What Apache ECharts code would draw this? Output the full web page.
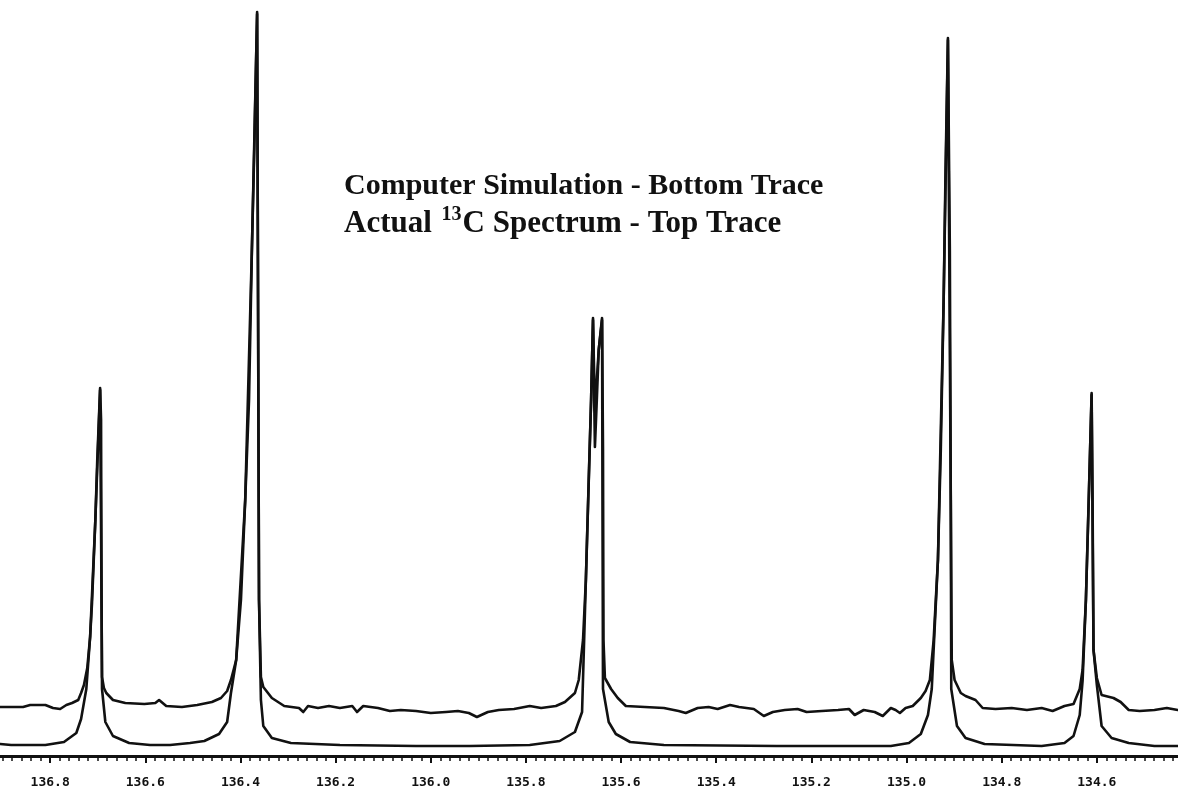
<!DOCTYPE html>
<html>
<head>
<meta charset="utf-8">
<script src="https://cdn.jsdelivr.net/npm/echarts@6/dist/echarts.min.js"></script>
<style>
  html, body { margin: 0; padding: 0; background: #fff; }
  #chart { width: 1178px; height: 796px; }
</style>
</head>
<body>
<div id="chart"></div>
<script>
// Chemical shift axis (ppm, decreasing to the right)
const shiftMin = 134.4;
const shiftMax = 137.0;
const shiftStep = 0.2;

// Title lines (rich-text markup: t = regular, s = superscript)
const titleLines = [
  '{t|Computer Simulation - Bottom Trace}',
  '{u|Actual }{s|13}{u|C Spectrum - Top Trace}'
];

// Measured 13C spectrum (top trace): [ppm, intensity]
const actualSpectrum = [
  [136.905,4.9],[136.882,4.9],[136.857,4.9],[136.842,5.1],[136.810,5.1],[136.794,4.8],[136.779,4.7],
  [136.766,5.1],[136.754,5.3],[136.741,5.6],[136.735,6.3],[136.729,7.1],[136.722,8.8],[136.716,11.9],
  [136.712,15.3],[136.705,23.6],[136.701,29.6],[136.695,36.8],[136.693,33.6],[136.692,15.6],[136.691,7.9],
  [136.687,6.8],[136.682,6.3],[136.668,5.6],[136.642,5.3],[136.602,5.2],[136.579,5.3],[136.571,5.6],
  [136.556,5.0],[136.523,4.9],[136.491,5.1],[136.460,5.4],[136.441,5.8],[136.428,6.5],[136.420,7.6],
  [136.409,9.6],[136.399,15.6],[136.390,25.6],[136.382,35.6],[136.376,50.6],[136.371,60.6],[136.365,74.4],
  [136.363,45.6],[136.361,15.6],[136.357,7.9],[136.352,6.9],[136.334,5.8],[136.308,5.0],[136.277,4.8],
  [136.268,4.4],[136.258,5.0],[136.237,4.8],[136.214,5.0],[136.191,4.8],[136.165,5.0],[136.155,4.4],
  [136.142,5.0],[136.111,4.8],[136.086,4.5],[136.063,4.6],[136.031,4.5],[136.000,4.3],[135.968,4.4],
  [135.943,4.5],[135.920,4.3],[135.903,3.9],[135.880,4.4],[135.857,4.6],[135.825,4.7],[135.792,5.0],
  [135.768,4.8],[135.737,5.0],[135.718,5.4],[135.697,6.3],[135.689,7.6],[135.680,11.6],[135.674,17.6],
  [135.668,27.6],[135.663,35.6],[135.659,43.8],[135.655,30.9],[135.651,35.6],[135.647,40.6],[135.640,43.8],
  [135.638,30.6],[135.637,11.6],[135.634,7.8],[135.621,6.7],[135.607,5.8],[135.590,5.0],[135.550,4.9],
  [135.510,4.8],[135.479,4.5],[135.464,4.3],[135.439,4.8],[135.416,4.9],[135.397,4.7],[135.371,5.1],
  [135.352,4.9],[135.321,4.7],[135.300,4.0],[135.281,4.4],[135.256,4.6],[135.229,4.7],[135.210,4.4],
  [135.178,4.5],[135.144,4.6],[135.121,4.7],[135.109,4.1],[135.090,4.6],[135.067,4.4],[135.050,4.0],
  [135.033,4.8],[135.023,4.6],[135.014,4.3],[135.002,4.8],[134.987,5.0],[134.970,5.8],[134.960,6.5],
  [134.951,7.6],[134.943,11.6],[134.934,19.6],[134.928,30.6],[134.922,45.6],[134.918,58.6],[134.913,71.8],
  [134.909,50.6],[134.907,25.6],[134.905,9.6],[134.899,7.6],[134.886,6.3],[134.876,6.0],[134.855,5.6],
  [134.840,4.8],[134.813,4.7],[134.779,4.8],[134.747,4.6],[134.716,4.8],[134.693,4.5],[134.668,5.0],
  [134.649,5.2],[134.636,6.7],[134.630,8.6],[134.623,15.6],[134.617,25.6],[134.611,36.3],[134.609,25.6],
  [134.607,10.6],[134.600,7.8],[134.590,6.1],[134.565,5.8],[134.550,5.4],[134.533,4.6],[134.510,4.5],
  [134.479,4.6],[134.453,4.8],[134.430,4.6]
];

// Computer simulation (bottom trace): [ppm, intensity]
const simulatedSpectrum = [
  [136.905,1.2],[136.882,1.1],[136.810,1.1],[136.771,1.4],[136.745,2.3],[136.735,3.7],[136.724,6.7],
  [136.716,11.9],[136.705,23.6],[136.695,36.6],[136.692,15.6],[136.691,6.7],[136.684,3.4],[136.668,2.0],
  [136.634,1.3],[136.590,1.1],[136.548,1.1],[136.506,1.3],[136.476,1.5],[136.445,2.2],[136.428,3.4],
  [136.420,6.3],[136.409,9.6],[136.390,25.6],[136.376,50.6],[136.365,74.2],[136.361,15.6],[136.357,5.6],
  [136.352,3.0],[136.334,1.8],[136.294,1.3],[136.191,1.1],[136.031,1.0],[135.918,1.0],[135.792,1.1],
  [135.729,1.5],[135.697,2.4],[135.682,4.4],[135.674,17.6],[135.663,35.6],[135.659,43.6],[135.655,34.6],
  [135.647,40.6],[135.640,43.6],[135.638,6.7],[135.626,3.4],[135.611,2.2],[135.581,1.4],[135.510,1.1],
  [135.273,1.0],[135.033,1.0],[134.995,1.3],[134.970,2.2],[134.955,4.1],[134.947,6.7],[134.934,19.6],
  [134.922,45.6],[134.913,71.6],[134.907,25.6],[134.906,6.7],[134.894,3.0],[134.876,1.8],[134.836,1.2],
  [134.716,1.0],[134.668,1.3],[134.649,2.0],[134.636,4.1],[134.630,7.5],[134.623,15.6],[134.611,36.1],
  [134.607,10.6],[134.600,7.1],[134.590,3.0],[134.569,1.8],[134.533,1.3],[134.479,1.0],[134.430,1.0]
];

const chart = echarts.init(document.getElementById('chart'), null, { renderer: 'canvas' });

const ink = '#111';
const serif = '"Liberation Serif", "DejaVu Serif", serif';

chart.setOption({
  backgroundColor: '#ffffff',
  animation: false,
  title: {
    text: titleLines.join('\n'),
    left: 339,
    top: 163,
    textStyle: {
      rich: {
        t: { fontFamily: serif, fontWeight: 'bold', fontSize: 30, lineHeight: 37, color: ink },
        u: { fontFamily: serif, fontWeight: 'bold', fontSize: 31, lineHeight: 37, color: ink },
        s: { fontFamily: serif, fontWeight: 'bold', fontSize: 20, lineHeight: 24, color: ink,
             verticalAlign: 'top', padding: [0, 1, 0, 2] }
      }
    }
  },
  // The shift axis runs a little past both edges of the canvas
  grid: { left: -45, right: -14, top: 6, bottom: 40, outerBoundsMode: 'none', containLabel: false },
  xAxis: {
    type: 'value',
    inverse: true,
    min: shiftMin,
    max: shiftMax,
    interval: shiftStep,
    axisLine: { show: true, onZero: false, lineStyle: { color: ink, width: 3 } },
    axisTick: { show: true, length: 7, lineStyle: { color: ink, width: 2 } },
    minorTick: { show: true, splitNumber: 10, length: 5, lineStyle: { color: ink, width: 1.5 } },
    splitLine: { show: false },
    axisLabel: {
      margin: 20,
      color: ink,
      showMinLabel: false,
      showMaxLabel: false,
      fontFamily: '"DejaVu Sans Mono", monospace',
      fontWeight: 'bold',
      fontSize: 13,
      formatter: v => v.toFixed(1)
    }
  },
  yAxis: {
    type: 'value',
    min: 0,
    max: 75,
    show: false
  },
  series: [
    {
      name: 'Actual spectrum',
      type: 'line',
      data: actualSpectrum,
      showSymbol: false,
      smooth: false,
      clip: false,
      lineStyle: { color: ink, width: 2.6, join: 'round', cap: 'round' }
    },
    {
      name: 'Computer simulation',
      type: 'line',
      data: simulatedSpectrum,
      showSymbol: false,
      smooth: false,
      clip: false,
      lineStyle: { color: ink, width: 2.6, join: 'round', cap: 'round' }
    }
  ]
});
</script>
</body>
</html>
